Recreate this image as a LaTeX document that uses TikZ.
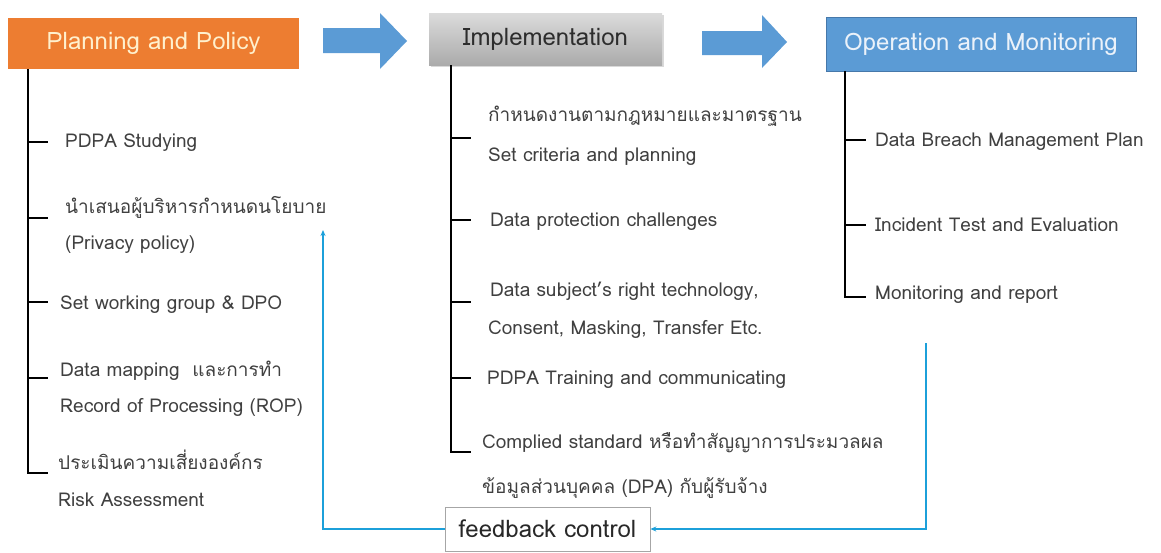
\documentclass[tikz,border=0pt]{standalone}
\usepackage{fontspec}
\setmainfont{Loma}[Script=Thai]
\usetikzlibrary{arrows.meta,shadows}
\definecolor{orangebox}{RGB}{237,125,49}
\definecolor{bluebox}{RGB}{91,155,213}
\definecolor{fbblue}{RGB}{28,160,218}
\definecolor{txt}{RGB}{64,64,64}
\tikzset{
  header/.style={inner sep=0pt, font=\fontsize{24}{28}\selectfont},
  item/.style={anchor=base west, inner sep=0pt, text=txt, font=\fontsize{19}{23}\selectfont},
  spine/.style={draw=black, line width=1.8pt},
  tick/.style={draw=black, line width=1.4pt},
  flow/.style={fill=bluebox, draw=none},
  fbline/.style={draw=fbblue, line width=1.6pt, -{Stealth[length=6pt,width=5pt]}},
}
\begin{document}
\begin{tikzpicture}[x=1pt,y=-1pt]
\useasboundingbox (0,0) rectangle (1161,552);
% header boxes
\node[header, fill=orangebox, minimum width=291pt, minimum height=51pt, text={rgb,255:red,255;green,240;blue,205}] (pp) at (153.5,43.5) {Planning and Policy};
\node[header, minimum width=233pt, minimum height=52pt, top color=gray!28, bottom color=gray!66, drop shadow={opacity=0.3, shadow xshift=1.5pt, shadow yshift=-2pt}, text={rgb,255:red,45;green,45;blue,45}] (impl) at (545.5,39) {Implementation};
\node[header, fill=bluebox, draw={rgb,255:red,70;green,120;blue,170}, line width=0.6pt, minimum width=310pt, minimum height=54pt, text={rgb,255:red,235;green,242;blue,250}] (om) at (981,44) {Operation and Monitoring};
% flow arrows
\fill[flow] (323,28) -- (380,28) -- (380,13) -- (407,41) -- (380,69) -- (380,53) -- (323,53) -- cycle;
\fill[flow] (702,31) -- (762,31) -- (762,15) -- (787,42) -- (762,68) -- (762,55) -- (702,55) -- cycle;
% left column
\coordinate (l0) at (28,69);
\coordinate (lend) at (28,473);
\draw[spine] (l0) -- (lend) -- (48,473);
\draw[tick] (28,142) -- (48,142);
\draw[tick] (28,218) -- (48,218);
\draw[tick] (28,302) -- (48,302);
\draw[tick] (28,378) -- (48,378);
\node[item] (p1) at (65,147) {PDPA Studying};
\node[item] (p2a) at (65,213) {นำเสนอผู้บริหารกำหนดนโยบาย};
\node[item] (p2b) at (65,249) {(Privacy policy)};
\node[item] (p3) at (60,309) {Set working group \& DPO};
\node[item] (p4a) at (60,376) {Data mapping \ และการทำ};
\node[item] (p4b) at (60,412) {Record of Processing (ROP)};
\node[item] (p5a) at (58,469) {ประเมินความเสี่ยงองค์กร};
\node[item] (p5b) at (58,506) {Risk Assessment};
% middle column
\coordinate (m0) at (451,65);
\coordinate (mend) at (451,452);
\draw[spine] (m0) -- (mend) -- (471,452);
\draw[tick] (451,138) -- (471,138);
\draw[tick] (451,220) -- (471,220);
\draw[tick] (451,302) -- (471,302);
\draw[tick] (451,378) -- (471,378);
\node[item] (i1a) at (488,121) {กำหนดงานตามกฎหมายและมาตรฐาน};
\node[item] (i1b) at (488,161) {Set criteria and planning};
\node[item] (i2) at (490,226) {Data protection challenges};
\node[item] (i3a) at (490,296) {Data subject’s right technology,};
\node[item] (i3b) at (488,334) {Consent, Masking, Transfer Etc.};
\node[item] (i4) at (487,384) {PDPA Training and communicating};
\node[item] (i5a) at (482,448) {Complied standard หรือทำสัญญาการประมวลผล};
\node[item] (i5b) at (482,493) {ข้อมูลส่วนบุคคล (DPA) กับผู้รับจ้าง};
% right column
\coordinate (r0) at (845,71);
\coordinate (rend) at (845,297);
\draw[spine] (r0) -- (rend) -- (866,297);
\draw[tick] (845,140) -- (866,140);
\draw[tick] (845,225) -- (866,225);
\node[item] (o1) at (875,146) {Data Breach Management Plan};
\node[item] (o2) at (875,231) {Incident Test and Evaluation};
\node[item] (o3) at (875,299) {Monitoring and report};
% feedback
\node[draw=gray!70, line width=0.8pt, fill=white, minimum width=205pt, minimum height=44pt, inner sep=0pt, text={rgb,255:red,40;green,40;blue,40}, font=\fontsize{24}{28}\selectfont] (fb) at (547.5,529) {feedback control};
\coordinate (fbup) at (323,230);
\coordinate (fbstart) at (926,343);
\draw[fbline] (fb.west) -| (fbup);
\draw[fbline] (fbstart) |- (fb.east);
\end{tikzpicture}
\end{document}
